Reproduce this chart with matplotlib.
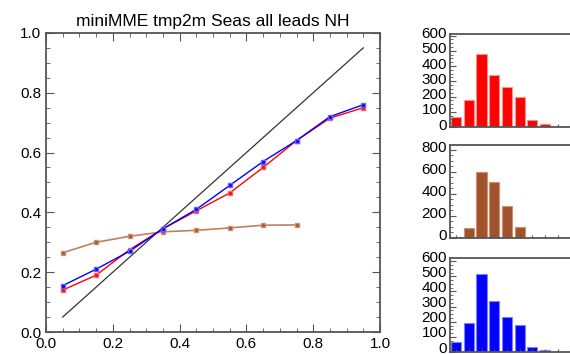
import numpy as np
import matplotlib
matplotlib.use("Agg")
import matplotlib.pyplot as plt
from matplotlib.ticker import MultipleLocator
from matplotlib.transforms import ScaledTranslation

plt.rcParams['font.family'] = ['Liberation Sans', 'DejaVu Sans']

# reliability curves
prob = [0.05, 0.15, 0.25, 0.35, 0.45, 0.55, 0.65, 0.75, 0.85, 0.95]
obs_red = [0.14, 0.19, 0.275, 0.345, 0.405, 0.465, 0.55, 0.64, 0.715, 0.75]
obs_blue = [0.155, 0.21, 0.27, 0.345, 0.41, 0.49, 0.57, 0.64, 0.72, 0.76]
prob_brown = [0.05, 0.15, 0.25, 0.35, 0.45, 0.55, 0.65, 0.75]
obs_brown = [0.265, 0.30, 0.32, 0.335, 0.34, 0.348, 0.357, 0.358]

# forecast counts per bin
hist_red = [66, 178, 479, 343, 264, 198, 44, 18, 2, 0]
hist_brown = [8, 90, 598, 505, 285, 95, 3, 1, 0, 0]
hist_blue = [68, 192, 514, 334, 232, 180, 32, 11, 2, 0]

RED = "#ff0000"
BLUE = "#0000ff"
BROWN = "#a0522d"
FRAME = "#555555"

fig = plt.figure(figsize=(5.7, 3.54), dpi=100)

ax = fig.add_axes([0.0807, 0.0621, 0.586, 0.845])
ax.plot([0.05, 0.95], [0.05, 0.95], color="#333333", lw=0.9)
ax.plot(prob_brown, obs_brown, color="#c08060", lw=1.2, marker="s", ms=3.5,
        mfc=BROWN, mec="#c89070")
ax.plot(prob, obs_red, color=RED, lw=1.0, marker="s", ms=3.5, mfc=RED, mec="#ff6060")
ax.plot(prob, obs_blue, color=BLUE, lw=1.0, marker="s", ms=3.5, mfc=BLUE, mec="#6060ff")
ax.set_xlim(0, 1)
ax.set_ylim(0, 1)
ax.xaxis.set_major_locator(MultipleLocator(0.2))
ax.yaxis.set_major_locator(MultipleLocator(0.2))
ax.xaxis.set_minor_locator(MultipleLocator(0.05))
ax.yaxis.set_minor_locator(MultipleLocator(0.05))
ax.xaxis.set_major_formatter(matplotlib.ticker.FormatStrFormatter("%.1f"))
ax.yaxis.set_major_formatter(matplotlib.ticker.FormatStrFormatter("%.1f"))
ax.tick_params(which="both", direction="in", top=True, right=True, colors=FRAME,
               labelcolor="black", labelsize=11)
ax.tick_params(which="major", length=6)
ax.tick_params(which="minor", length=3)
for s in ax.spines.values():
    s.set_color(FRAME)
    s.set_linewidth(1.3)
ax.set_title("miniMME tmp2m Seas all leads NH", fontsize=12.5, pad=5)

centers = np.arange(10) * 0.1 + 0.05


def hist_panel(rect, counts, color, edge, top, step, lift=3):
    h = fig.add_axes(rect)
    h.bar(centers, counts, width=0.08, color=color, edgecolor=edge, linewidth=0.8)
    h.set_xlim(0, 1)
    h.set_ylim(0, top)
    h.set_xticks(centers)
    h.set_xticklabels([])
    h.yaxis.set_major_locator(MultipleLocator(step))
    h.yaxis.set_minor_locator(MultipleLocator(step / 4))
    h.tick_params(which="both", direction="in", colors=FRAME, labelcolor="black",
                  labelsize=11, pad=2)
    h.tick_params(axis="x", length=2)
    h.tick_params(axis="y", which="major", length=4)
    h.tick_params(axis="y", which="minor", length=2)
    shift_up = ScaledTranslation(0, lift / 100, fig.dpi_scale_trans)
    for lab in h.get_yticklabels():
        lab.set_transform(lab.get_transform() + shift_up)
    for s in h.spines.values():
        s.set_color(FRAME)
        s.set_linewidth(1.3)
    return h


hist_panel([0.789, 0.641, 0.223, 0.263], hist_red, RED, "#ff9090", 610, 100)
hist_panel([0.789, 0.328, 0.223, 0.263], hist_brown, BROWN, "#d09070", 845, 200)
hist_panel([0.789, 0.0056, 0.223, 0.266], hist_blue, BLUE, "#8080ff", 622, 100, lift=5)

fig.savefig("out.png", dpi=100)
